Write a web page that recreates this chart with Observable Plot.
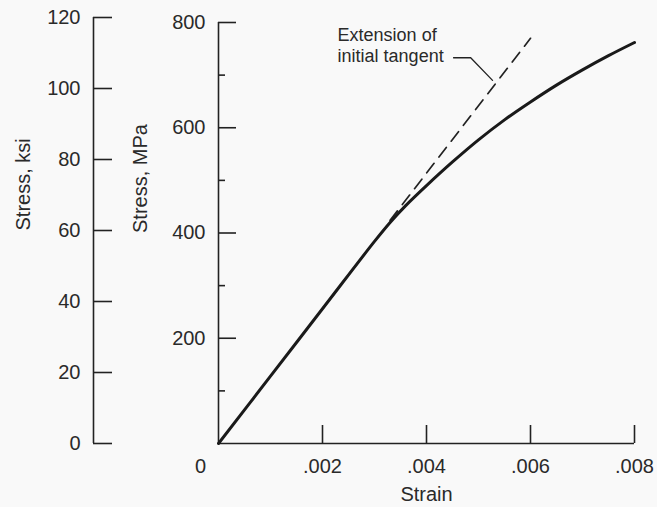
<!DOCTYPE html>
<html>
<head>
<meta charset="utf-8">
<script src="https://cdn.jsdelivr.net/npm/d3@7"></script>
<script src="https://cdn.jsdelivr.net/npm/@observablehq/plot@0.6"></script>
<style>
  html, body { margin: 0; padding: 0; background: #f9f9f9; }
  #chart { position: relative; width: 657px; height: 507px; }
  #chart svg { position: absolute; left: 0; top: 0; }
</style>
</head>
<body>
<div id="chart"></div>
<script>
// Stress-strain curve
const strain    = [0, 0.001, 0.002, 0.003, 0.0033, 0.0036, 0.004, 0.0045, 0.005, 0.0055, 0.006, 0.0065, 0.007, 0.0075, 0.008];
const stressMPa = [0, 128,   256,   384,   420,    452,    490,   535,    577,   615,    649,   681,    710,   737,    762];

// Extension of initial tangent (dashed)
const tangentStrain = [0.0033, 0.006];
const tangentStress = [424, 770];

// Annotation and its leader line
const annotationText = ["Extension of\ninitial tangent"];
const annotationStrain = [0.00229];
const annotationStress = [724];
const leaderStrain = [0.00452, 0.00485, 0.00527];
const leaderStress = [733, 733, 690];

// Axes
const xTicks = [0.002, 0.004, 0.006, 0.008];
const xTickLabels = [".002", ".004", ".006", ".008"];
const originLabel = ["0"];
const mpaMajor = [200, 400, 600, 800];
const mpaMinor = [100, 300, 500, 700];
const ksiTicks = [0, 20, 40, 60, 80, 100, 120];

const ink = "#222";
const font = "'Liberation Sans', Arial, Helvetica, sans-serif";

const curve = strain.map((s, i) => ({strain: s, stress: stressMPa[i]}));
const tangent = tangentStrain.map((s, i) => ({strain: s, stress: tangentStress[i]}));
const leader = leaderStrain.map((s, i) => ({strain: s, stress: leaderStress[i]}));
const note = annotationText.map((t, i) => ({text: t, strain: annotationStrain[i], stress: annotationStress[i]}));

const main = Plot.plot({
  width: 657,
  height: 507,
  marginLeft: 218,
  marginRight: 23,
  marginTop: 22,
  marginBottom: 64,
  style: {background: "transparent", fontFamily: font, color: "#2a2a2a"},
  x: {domain: [0, 0.008], axis: null},
  y: {domain: [0, 800], axis: null},
  marks: [
    Plot.ruleX([0], {stroke: ink, strokeWidth: 1.6}),
    Plot.ruleY([0], {stroke: ink, strokeWidth: 1.6}),
    Plot.ruleY(mpaMajor, {x1: 0, x2: 0, insetRight: -18, stroke: ink, strokeWidth: 1.6}),
    Plot.ruleY(mpaMinor, {x1: 0, x2: 0, insetRight: -7, stroke: ink, strokeWidth: 1.6}),
    Plot.ruleX(xTicks, {y1: 0, y2: 0, insetTop: -18, stroke: ink, strokeWidth: 1.6}),
    Plot.axisY(mpaMajor, {anchor: "left", tickSize: 0, tickPadding: 13, fontSize: 20, label: null}),
    Plot.axisX(xTicks, {anchor: "bottom", tickSize: 0, tickPadding: 15, fontSize: 20, label: null,
      tickFormat: d => xTickLabels[xTicks.indexOf(d)]}),
    Plot.text(originLabel, {x: 0, y: 0, dx: -18, dy: 15, lineAnchor: "top", fontSize: 20}),
    Plot.line(tangent, {x: "strain", y: "stress", stroke: ink, strokeWidth: 1.7, strokeDasharray: "12,8"}),
    Plot.line(curve, {x: "strain", y: "stress", stroke: "#1a1a1a", strokeWidth: 3, curve: "catmull-rom"}),
    Plot.line(leader, {x: "strain", y: "stress", stroke: ink, strokeWidth: 1.3}),
    Plot.text(note, {x: "strain", y: "stress", text: "text", textAnchor: "start", lineAnchor: "bottom",
      fontSize: 18, lineHeight: 1.22}),
    Plot.text(["Strain"], {frameAnchor: "bottom", lineAnchor: "bottom", dy: 57, fontSize: 20}),
    Plot.text(["Stress, MPa"], {frameAnchor: "left", rotate: -90, dx: -77.5, fontSize: 20})
  ]
});

const ksi = Plot.plot({
  width: 112,
  height: 507,
  marginLeft: 93,
  marginRight: 0,
  marginTop: 17,
  marginBottom: 64,
  style: {background: "transparent", fontFamily: font, color: "#2a2a2a"},
  x: {domain: [0, 1], axis: null},
  y: {domain: [0, 120], axis: null},
  marks: [
    Plot.ruleX([0], {stroke: ink, strokeWidth: 1.6}),
    Plot.ruleY(ksiTicks, {stroke: ink, strokeWidth: 1.6}),
    Plot.axisY(ksiTicks, {anchor: "left", tickSize: 0, tickPadding: 13, fontSize: 20, label: null}),
    Plot.text(["Stress, ksi"], {frameAnchor: "left", rotate: -90, dx: -70, fontSize: 20})
  ]
});

const chart = document.getElementById("chart");
chart.appendChild(main);
chart.appendChild(ksi);
</script>
</body>
</html>
